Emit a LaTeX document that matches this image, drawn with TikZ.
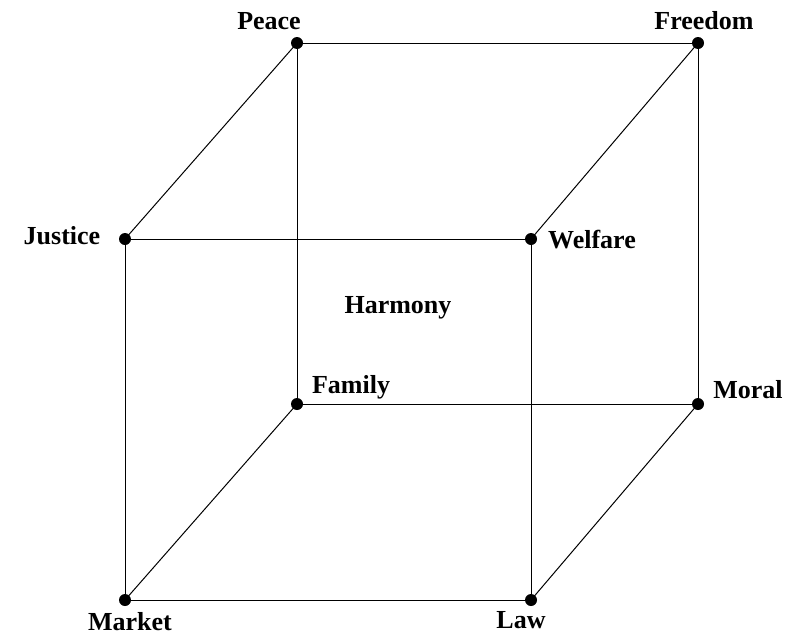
\documentclass[tikz,border=0pt]{standalone}
\usepackage{fontspec}
\setmainfont{Liberation Serif}
\tikzset{
	dot/.style={circle, fill=black, inner sep=0pt, minimum size=12pt},
	lbl/.style={font=\fontsize{26}{26}\selectfont\bfseries, inner sep=0pt},
	edge/.style={line width=1pt}
}
\begin{document}
\begin{tikzpicture}[x=1pt, y=-1pt]
	\useasboundingbox (0,0) rectangle (786,635);
	% corners of the cube
	\node[dot] (peace) at (297,43) {};
	\node[dot] (freedom) at (698,43) {};
	\node[dot] (justice) at (125,239) {};
	\node[dot] (welfare) at (531,239) {};
	\node[dot] (family) at (297,404) {};
	\node[dot] (moral) at (698,404) {};
	\node[dot] (market) at (125,600) {};
	\node[dot] (law) at (531,600) {};
	% edges
	\draw[edge] (peace.center) -- (freedom.center) -- (moral.center) -- (family.center) -- (peace.center);
	\draw[edge] (justice.center) -- (welfare.center) -- (law.center) -- (market.center) -- (justice.center);
	\draw[edge] (peace.center) -- (justice.center);
	\draw[edge] (freedom.center) -- (welfare.center);
	\draw[edge] (family.center) -- (market.center);
	\draw[edge] (moral.center) -- (law.center);
	% labels
	\node[lbl] (peaceL) at (269,21) {Peace};
	\node[lbl] (freedomL) at (704,21) {Freedom};
	\node[lbl] (justiceL) at (62,236) {Justice};
	\node[lbl, anchor=west] (welfareL) at (548,240) {Welfare};
	\node[lbl] (familyL) at (351,387) {Family};
	\node[lbl] (moralL) at (748,390) {Moral};
	\node[lbl] (marketL) at (130,622) {Market};
	\node[lbl] (lawL) at (521,620) {Law};
	\node[lbl] (harmony) at (398,308) {Harmony};
\end{tikzpicture}
\end{document}
